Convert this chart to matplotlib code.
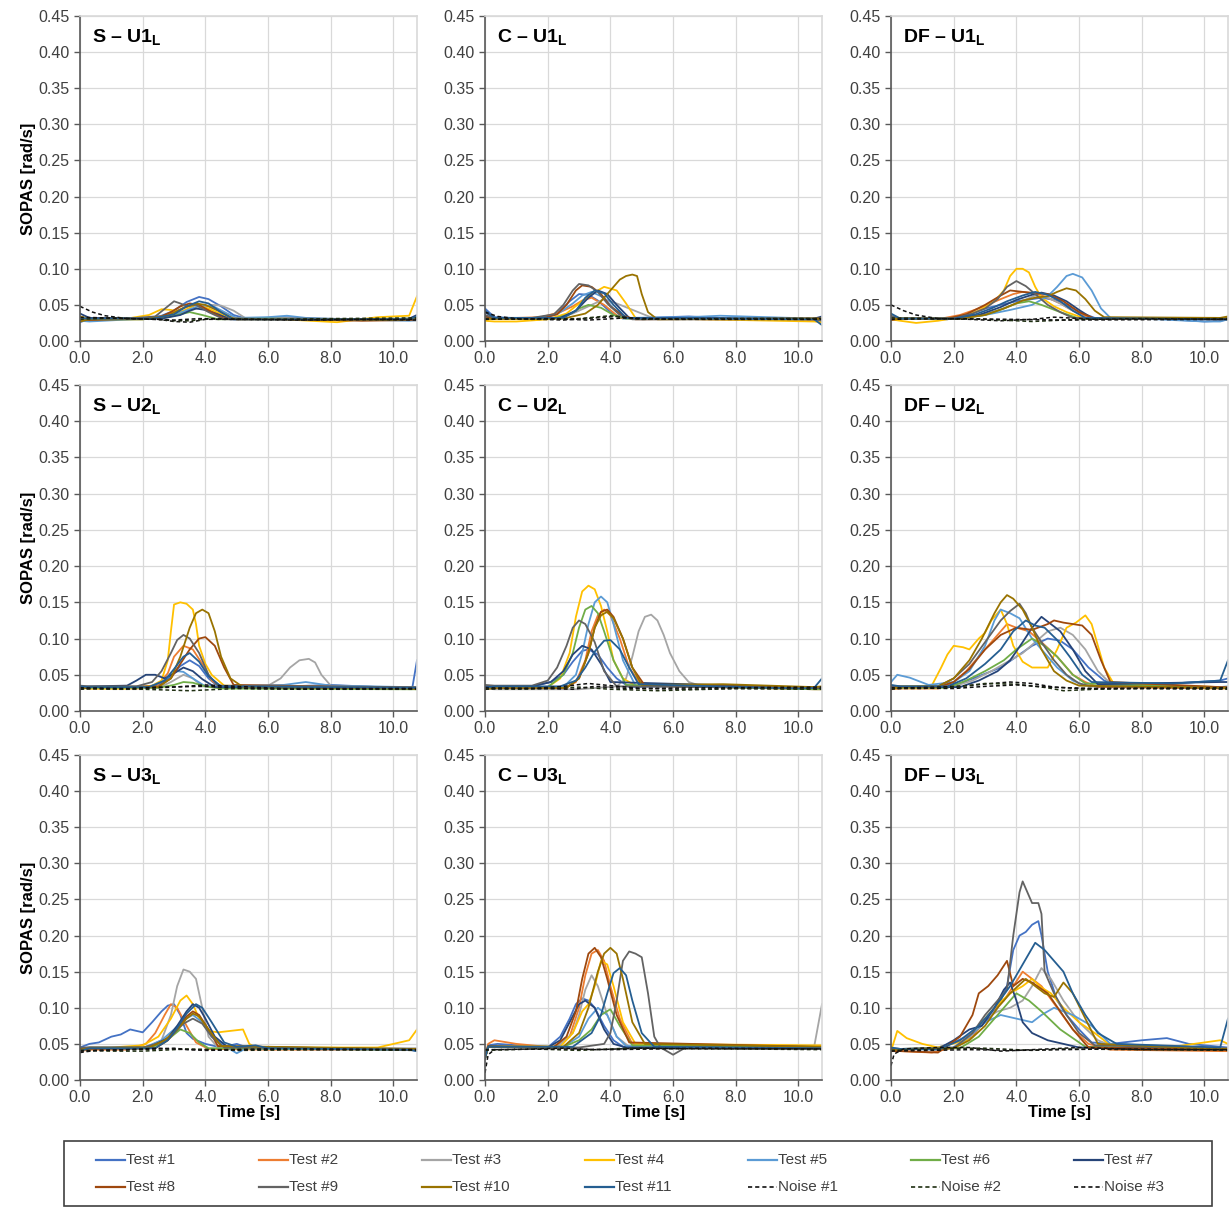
import matplotlib
matplotlib.use("Agg")
import matplotlib.pyplot as plt
from matplotlib import font_manager
from matplotlib.lines import Line2D
from matplotlib.patches import Rectangle

names = set(f.name for f in font_manager.fontManager.ttflist)
FONT = "Liberation Sans Narrow" if "Liberation Sans Narrow" in names else "Liberation Sans"
plt.rcParams['font.family'] = [FONT, 'DejaVu Sans']
plt.rcParams['mathtext.fontset'] = 'custom'
plt.rcParams['mathtext.rm'] = FONT
plt.rcParams['mathtext.bf'] = FONT + ':bold'

series_names = ["Test #1", "Test #2", "Test #3", "Test #4", "Test #5", "Test #6", "Test #7",
                "Test #8", "Test #9", "Test #10", "Test #11", "Noise #1", "Noise #2", "Noise #3"]
colors = ["#4472C4", "#ED7D31", "#A5A5A5", "#FFC000", "#5B9BD5", "#70AD47", "#264478",
          "#9E480E", "#636363", "#997300", "#255E91", "#111111", "#1f2f12", "#111111"]

panel_titles = ["S – U1", "C – U1", "DF – U1",
                "S – U2", "C – U2", "DF – U2",
                "S – U3", "C – U3", "DF – U3"]

# each curve: (time [s], SOPAS [rad/s]); order Test #1..#11, Noise #1..#3
s_u1 = [
    ([0, 0.2, 1.0, 2.0, 2.6, 3.0, 3.4, 3.8, 4.1, 4.5, 4.9, 5.3, 6.5, 8.0, 9.5, 10.5, 10.75], [0.026, 0.029, 0.030, 0.031, 0.035, 0.042, 0.054, 0.061, 0.058, 0.048, 0.036, 0.031, 0.033, 0.030, 0.029, 0.030, 0.034]),
    ([0, 0.3, 1.2, 2.2, 2.7, 3.1, 3.6, 4.0, 4.5, 5.0, 7.0, 9.0, 10.5, 10.75], [0.033, 0.030, 0.031, 0.031, 0.035, 0.042, 0.050, 0.046, 0.036, 0.030, 0.031, 0.029, 0.030, 0.032]),
    ([0, 0.3, 2.5, 3.2, 3.8, 4.2, 4.5, 4.9, 5.3, 6.5, 8.0, 10.5, 10.75], [0.030, 0.032, 0.032, 0.038, 0.046, 0.050, 0.049, 0.042, 0.031, 0.032, 0.030, 0.029, 0.028]),
    ([0, 0.3, 1.5, 2.2, 2.6, 2.9, 3.2, 3.7, 4.1, 4.5, 5.0, 6.5, 8.2, 9.5, 10.5, 10.75], [0.034, 0.031, 0.031, 0.036, 0.044, 0.043, 0.040, 0.050, 0.045, 0.037, 0.030, 0.030, 0.026, 0.033, 0.035, 0.062]),
    ([0, 0.3, 2.5, 3.0, 3.5, 3.9, 4.3, 4.7, 5.0, 6.0, 6.6, 7.2, 8.5, 10.5, 10.75], [0.028, 0.027, 0.032, 0.036, 0.044, 0.050, 0.047, 0.038, 0.032, 0.033, 0.035, 0.032, 0.030, 0.028, 0.029]),
    ([0, 0.3, 2.0, 2.8, 3.2, 3.5, 3.9, 4.4, 6.0, 8.0, 10.5, 10.75], [0.031, 0.030, 0.030, 0.033, 0.037, 0.040, 0.036, 0.030, 0.031, 0.030, 0.031, 0.031]),
    ([0, 0.3, 2.6, 3.2, 3.5, 3.7, 4.0, 4.4, 4.8, 7.0, 9.0, 10.5, 10.75], [0.038, 0.032, 0.031, 0.036, 0.042, 0.045, 0.043, 0.037, 0.030, 0.030, 0.029, 0.031, 0.036]),
    ([0, 0.3, 2.5, 2.9, 3.2, 3.5, 3.8, 4.2, 4.6, 7.0, 9.0, 10.5, 10.75], [0.030, 0.029, 0.032, 0.040, 0.048, 0.052, 0.050, 0.040, 0.031, 0.030, 0.028, 0.029, 0.030]),
    ([0, 0.3, 1.5, 2.4, 2.8, 3.0, 3.2, 3.4, 3.7, 4.1, 4.6, 7.0, 10.5, 10.75], [0.029, 0.031, 0.031, 0.034, 0.048, 0.055, 0.052, 0.048, 0.050, 0.040, 0.030, 0.031, 0.030, 0.031]),
    ([0, 0.3, 2.0, 2.8, 3.3, 3.7, 4.0, 4.4, 4.9, 7.0, 10.0, 10.5, 10.75], [0.027, 0.030, 0.030, 0.035, 0.046, 0.052, 0.050, 0.042, 0.031, 0.030, 0.029, 0.030, 0.033]),
    ([0, 0.3, 2.3, 3.0, 3.4, 3.8, 4.1, 4.5, 4.9, 7.0, 10.5, 10.75], [0.032, 0.031, 0.031, 0.037, 0.048, 0.055, 0.052, 0.040, 0.030, 0.030, 0.030, 0.034]),
    ([0, 0.4, 0.8, 1.5, 2.5, 3.0, 3.5, 4.0, 5.0, 7.0, 9.0, 10.75], [0.048, 0.040, 0.035, 0.031, 0.030, 0.027, 0.026, 0.030, 0.030, 0.029, 0.030, 0.029]),
    ([0, 1.0, 2.5, 3.0, 3.5, 4.2, 6.0, 8.0, 10.75], [0.030, 0.032, 0.030, 0.028, 0.028, 0.031, 0.030, 0.031, 0.032]),
    ([0, 1.5, 3.0, 3.8, 5.0, 7.5, 10.75], [0.033, 0.031, 0.029, 0.031, 0.030, 0.029, 0.030]),
]

c_u1 = [
    ([0, 0.3, 1.8, 2.3, 2.7, 3.0, 3.3, 3.6, 4.0, 4.4, 6.5, 8.0, 10.5, 10.75], [0.045, 0.033, 0.030, 0.038, 0.055, 0.065, 0.064, 0.056, 0.040, 0.031, 0.034, 0.031, 0.030, 0.030]),
    ([0, 0.3, 1.8, 2.4, 2.8, 3.1, 3.4, 3.8, 4.3, 7.0, 10.5, 10.75], [0.032, 0.031, 0.033, 0.040, 0.048, 0.056, 0.060, 0.050, 0.032, 0.030, 0.029, 0.029]),
    ([0, 0.3, 2.2, 2.8, 3.3, 3.8, 4.2, 4.6, 5.0, 5.4, 7.0, 10.5, 10.75], [0.030, 0.031, 0.031, 0.038, 0.048, 0.058, 0.052, 0.045, 0.038, 0.031, 0.031, 0.030, 0.030]),
    ([0, 0.3, 1.0, 2.0, 2.6, 3.0, 3.4, 3.8, 4.2, 4.5, 4.8, 7.0, 10.5, 10.75], [0.028, 0.027, 0.027, 0.030, 0.038, 0.052, 0.065, 0.075, 0.070, 0.052, 0.032, 0.030, 0.027, 0.026]),
    ([0, 0.3, 1.5, 2.3, 2.8, 3.1, 3.4, 3.8, 4.1, 4.5, 6.5, 7.5, 10.5, 10.75], [0.033, 0.031, 0.031, 0.037, 0.052, 0.063, 0.068, 0.060, 0.045, 0.032, 0.033, 0.035, 0.031, 0.030]),
    ([0, 0.3, 2.2, 2.7, 3.0, 3.3, 3.7, 4.1, 4.5, 10.5, 10.75], [0.031, 0.031, 0.031, 0.037, 0.045, 0.050, 0.046, 0.036, 0.031, 0.031, 0.031]),
    ([0, 0.3, 2.4, 2.9, 3.3, 3.6, 3.9, 4.2, 4.6, 10.5, 10.75], [0.040, 0.032, 0.032, 0.042, 0.060, 0.070, 0.065, 0.050, 0.032, 0.031, 0.034]),
    ([0, 0.3, 1.8, 2.3, 2.6, 2.9, 3.1, 3.4, 3.7, 4.0, 4.4, 4.8, 10.5, 10.75], [0.034, 0.031, 0.031, 0.037, 0.050, 0.070, 0.077, 0.075, 0.065, 0.048, 0.035, 0.030, 0.031, 0.031]),
    ([0, 0.3, 1.5, 2.2, 2.5, 2.8, 3.0, 3.3, 3.6, 3.9, 4.3, 4.7, 10.5, 10.75], [0.036, 0.032, 0.032, 0.037, 0.050, 0.070, 0.079, 0.077, 0.068, 0.052, 0.036, 0.030, 0.030, 0.028]),
    ([0, 0.3, 2.5, 3.2, 3.6, 3.8, 4.0, 4.3, 4.5, 4.7, 4.85, 5.0, 5.2, 5.5, 10.5, 10.75], [0.030, 0.031, 0.031, 0.038, 0.050, 0.060, 0.070, 0.085, 0.090, 0.092, 0.090, 0.065, 0.040, 0.030, 0.031, 0.031]),
    ([0, 0.3, 2.5, 2.9, 3.2, 3.5, 3.8, 4.1, 4.5, 7.0, 10.5, 10.75], [0.042, 0.032, 0.032, 0.042, 0.060, 0.070, 0.066, 0.050, 0.032, 0.031, 0.030, 0.022]),
    ([0, 0.4, 1.0, 2.5, 3.5, 4.2, 5.0, 7.0, 10.75], [0.040, 0.034, 0.031, 0.029, 0.032, 0.034, 0.030, 0.031, 0.031]),
    ([0, 1.5, 3.0, 4.0, 5.0, 8.0, 10.75], [0.031, 0.030, 0.031, 0.035, 0.030, 0.031, 0.031]),
    ([0, 2.0, 3.3, 4.5, 6.0, 10.75], [0.030, 0.031, 0.029, 0.032, 0.030, 0.030]),
]

df_u1 = [
    ([0, 0.3, 1.8, 2.5, 3.0, 3.5, 4.0, 4.5, 4.8, 5.2, 5.6, 6.0, 6.5, 8.5, 10.0, 10.5, 10.75], [0.030, 0.031, 0.030, 0.037, 0.045, 0.050, 0.055, 0.058, 0.060, 0.057, 0.050, 0.040, 0.032, 0.031, 0.027, 0.028, 0.030]),
    ([0, 0.3, 1.6, 2.2, 2.8, 3.5, 3.9, 4.2, 4.6, 5.0, 5.4, 5.8, 6.4, 10.5, 10.75], [0.033, 0.031, 0.031, 0.036, 0.045, 0.058, 0.065, 0.068, 0.066, 0.060, 0.052, 0.042, 0.031, 0.030, 0.030]),
    ([0, 0.3, 2.0, 2.8, 3.4, 4.0, 4.6, 5.0, 5.4, 5.8, 6.2, 10.5, 10.75], [0.030, 0.031, 0.031, 0.036, 0.042, 0.052, 0.063, 0.060, 0.052, 0.042, 0.032, 0.031, 0.031]),
    ([0, 0.3, 0.8, 1.5, 2.2, 2.8, 3.3, 3.6, 3.8, 4.0, 4.2, 4.4, 4.6, 4.8, 5.2, 5.6, 6.2, 10.5, 10.75], [0.030, 0.028, 0.025, 0.028, 0.033, 0.042, 0.055, 0.070, 0.090, 0.100, 0.100, 0.095, 0.075, 0.060, 0.048, 0.040, 0.031, 0.031, 0.032]),
    ([0, 0.3, 2.0, 3.0, 3.8, 4.5, 5.0, 5.3, 5.6, 5.8, 6.1, 6.4, 6.7, 7.0, 8.5, 10.0, 10.5, 10.75], [0.030, 0.031, 0.031, 0.036, 0.043, 0.050, 0.062, 0.075, 0.090, 0.093, 0.088, 0.070, 0.045, 0.032, 0.030, 0.027, 0.027, 0.030]),
    ([0, 0.3, 2.2, 3.0, 3.6, 4.0, 4.4, 4.8, 5.4, 6.0, 10.5, 10.75], [0.031, 0.031, 0.031, 0.036, 0.045, 0.052, 0.055, 0.050, 0.040, 0.031, 0.031, 0.031]),
    ([0, 0.3, 2.0, 2.8, 3.5, 4.0, 4.5, 4.8, 5.2, 5.6, 6.0, 6.4, 10.5, 10.75], [0.032, 0.031, 0.031, 0.036, 0.047, 0.057, 0.064, 0.067, 0.063, 0.055, 0.043, 0.032, 0.031, 0.031]),
    ([0, 0.3, 1.8, 2.4, 3.0, 3.5, 3.8, 4.2, 4.6, 5.0, 5.5, 6.0, 6.5, 10.5, 10.75], [0.029, 0.031, 0.031, 0.037, 0.050, 0.063, 0.070, 0.068, 0.066, 0.065, 0.055, 0.040, 0.031, 0.031, 0.031]),
    ([0, 0.3, 2.0, 2.6, 3.0, 3.4, 3.7, 4.0, 4.3, 4.6, 5.0, 5.4, 5.8, 10.5, 10.75], [0.035, 0.031, 0.031, 0.038, 0.045, 0.058, 0.075, 0.083, 0.076, 0.065, 0.050, 0.040, 0.032, 0.030, 0.030]),
    ([0, 0.3, 2.2, 3.0, 3.6, 4.2, 4.6, 5.0, 5.3, 5.6, 5.9, 6.2, 6.5, 6.8, 10.5, 10.75], [0.030, 0.031, 0.031, 0.036, 0.045, 0.056, 0.060, 0.062, 0.068, 0.073, 0.070, 0.058, 0.042, 0.033, 0.032, 0.034]),
    ([0, 0.3, 2.0, 2.7, 3.2, 3.7, 4.2, 4.6, 5.0, 5.4, 5.8, 6.2, 10.5, 10.75], [0.038, 0.031, 0.031, 0.037, 0.045, 0.055, 0.063, 0.068, 0.064, 0.055, 0.042, 0.032, 0.030, 0.030]),
    ([0, 0.4, 0.8, 1.5, 2.5, 3.5, 4.5, 5.2, 6.5, 8.0, 10.75], [0.050, 0.042, 0.036, 0.031, 0.030, 0.028, 0.030, 0.033, 0.030, 0.031, 0.030]),
    ([0, 1.5, 3.0, 4.0, 4.5, 6.0, 10.75], [0.032, 0.031, 0.030, 0.028, 0.027, 0.030, 0.031]),
    ([0, 2.0, 3.8, 5.5, 10.75], [0.030, 0.031, 0.030, 0.029, 0.030]),
]

s_u2 = [
    ([0, 0.3, 1.0, 2.2, 2.6, 2.9, 3.2, 3.5, 3.8, 4.1, 4.4, 6.0, 8.0, 9.5, 10.6, 10.75], [0.031, 0.033, 0.033, 0.034, 0.038, 0.048, 0.062, 0.070, 0.062, 0.045, 0.034, 0.033, 0.036, 0.033, 0.032, 0.070]),
    ([0, 0.3, 2.0, 2.5, 2.8, 3.0, 3.3, 3.6, 3.9, 4.2, 4.5, 10.5, 10.75], [0.033, 0.031, 0.031, 0.037, 0.052, 0.075, 0.090, 0.085, 0.065, 0.042, 0.033, 0.031, 0.031]),
    ([0, 0.3, 2.5, 2.9, 3.3, 3.6, 3.9, 6.0, 6.4, 6.7, 7.0, 7.3, 7.5, 7.7, 8.0, 10.5, 10.75], [0.031, 0.032, 0.032, 0.040, 0.050, 0.045, 0.034, 0.035, 0.045, 0.060, 0.070, 0.072, 0.067, 0.050, 0.035, 0.032, 0.032]),
    ([0, 0.3, 1.5, 2.3, 2.6, 2.8, 2.9, 3.0, 3.2, 3.4, 3.6, 3.7, 3.8, 4.0, 4.2, 4.6, 10.5, 10.75], [0.032, 0.031, 0.031, 0.035, 0.042, 0.070, 0.110, 0.147, 0.150, 0.148, 0.140, 0.120, 0.090, 0.065, 0.050, 0.035, 0.032, 0.032]),
    ([0, 0.3, 2.2, 2.6, 2.9, 3.1, 3.3, 3.6, 4.0, 6.5, 7.2, 8.0, 10.5, 10.75], [0.030, 0.033, 0.033, 0.040, 0.050, 0.055, 0.054, 0.045, 0.034, 0.036, 0.040, 0.035, 0.033, 0.033]),
    ([0, 0.3, 2.5, 3.0, 3.3, 3.6, 4.0, 4.5, 10.5, 10.75], [0.031, 0.032, 0.032, 0.036, 0.040, 0.039, 0.034, 0.031, 0.030, 0.030]),
    ([0, 0.3, 1.5, 1.8, 2.1, 2.4, 2.7, 3.0, 3.3, 3.6, 3.9, 4.3, 10.5, 10.75], [0.033, 0.034, 0.035, 0.042, 0.050, 0.050, 0.045, 0.052, 0.060, 0.055, 0.044, 0.033, 0.031, 0.031]),
    ([0, 0.3, 2.5, 2.9, 3.2, 3.5, 3.8, 4.0, 4.3, 4.6, 4.9, 10.5, 10.75], [0.032, 0.033, 0.034, 0.045, 0.065, 0.085, 0.100, 0.102, 0.090, 0.060, 0.036, 0.032, 0.032]),
    ([0, 0.3, 1.8, 2.3, 2.6, 2.9, 3.1, 3.3, 3.5, 3.8, 4.1, 4.4, 10.5, 10.75], [0.035, 0.034, 0.034, 0.040, 0.055, 0.080, 0.098, 0.105, 0.100, 0.080, 0.050, 0.035, 0.033, 0.033]),
    ([0, 0.3, 2.5, 2.9, 3.2, 3.5, 3.7, 3.9, 4.1, 4.3, 4.5, 4.8, 5.2, 10.5, 10.75], [0.030, 0.033, 0.033, 0.045, 0.075, 0.115, 0.135, 0.140, 0.135, 0.110, 0.075, 0.045, 0.033, 0.031, 0.030]),
    ([0, 0.3, 2.2, 2.7, 3.0, 3.3, 3.5, 3.8, 4.1, 4.5, 10.5, 10.75], [0.034, 0.033, 0.033, 0.042, 0.058, 0.075, 0.080, 0.068, 0.048, 0.034, 0.032, 0.032]),
    ([0, 0.5, 1.5, 2.5, 3.0, 4.0, 5.0, 6.5, 8.0, 10.75], [0.030, 0.031, 0.030, 0.032, 0.033, 0.036, 0.034, 0.031, 0.031, 0.031]),
    ([0, 1.0, 2.0, 3.5, 5.0, 8.0, 10.75], [0.031, 0.030, 0.030, 0.028, 0.031, 0.030, 0.030]),
    ([0, 1.5, 2.5, 4.0, 5.5, 7.0, 10.75], [0.032, 0.031, 0.033, 0.034, 0.031, 0.030, 0.031]),
]

c_u2 = [
    ([0, 0.3, 1.5, 2.1, 2.5, 2.8, 3.1, 3.3, 3.6, 3.9, 4.2, 4.6, 7.5, 8.0, 10.5, 10.75], [0.033, 0.034, 0.034, 0.040, 0.050, 0.068, 0.083, 0.085, 0.078, 0.060, 0.045, 0.033, 0.036, 0.033, 0.031, 0.031]),
    ([0, 0.3, 2.5, 2.9, 3.2, 3.4, 3.6, 3.8, 4.0, 4.3, 4.6, 5.0, 10.5, 10.75], [0.030, 0.031, 0.031, 0.040, 0.070, 0.110, 0.132, 0.140, 0.132, 0.100, 0.060, 0.035, 0.030, 0.030]),
    ([0, 0.3, 3.0, 4.2, 4.5, 4.7, 4.9, 5.1, 5.3, 5.5, 5.7, 5.9, 6.2, 6.5, 7.0, 10.5, 10.75], [0.031, 0.030, 0.030, 0.034, 0.045, 0.075, 0.110, 0.130, 0.133, 0.125, 0.105, 0.080, 0.055, 0.040, 0.033, 0.032, 0.032]),
    ([0, 0.3, 2.0, 2.4, 2.7, 2.9, 3.1, 3.3, 3.5, 3.7, 3.9, 4.1, 4.4, 4.8, 10.5, 10.75], [0.032, 0.033, 0.033, 0.045, 0.080, 0.130, 0.165, 0.173, 0.168, 0.145, 0.110, 0.070, 0.045, 0.035, 0.031, 0.031]),
    ([0, 0.3, 2.5, 2.9, 3.1, 3.3, 3.5, 3.7, 3.9, 4.1, 4.4, 4.8, 10.5, 10.75], [0.030, 0.033, 0.033, 0.050, 0.080, 0.120, 0.150, 0.158, 0.150, 0.120, 0.070, 0.035, 0.031, 0.031]),
    ([0, 0.3, 2.0, 2.5, 2.8, 3.0, 3.2, 3.4, 3.6, 3.8, 4.1, 4.5, 10.5, 10.75], [0.031, 0.033, 0.033, 0.050, 0.080, 0.115, 0.140, 0.145, 0.135, 0.110, 0.070, 0.036, 0.030, 0.030]),
    ([0, 0.3, 1.5, 2.1, 2.5, 2.8, 3.1, 3.4, 3.7, 4.0, 10.5, 10.75], [0.034, 0.034, 0.034, 0.040, 0.055, 0.078, 0.090, 0.085, 0.065, 0.040, 0.032, 0.032]),
    ([0, 0.3, 2.6, 3.0, 3.3, 3.5, 3.7, 3.9, 4.1, 4.4, 4.7, 5.1, 10.5, 10.75], [0.031, 0.032, 0.032, 0.045, 0.080, 0.115, 0.137, 0.140, 0.130, 0.100, 0.060, 0.035, 0.033, 0.033]),
    ([0, 0.3, 1.5, 2.0, 2.3, 2.6, 2.8, 3.0, 3.2, 3.5, 3.8, 4.2, 10.5, 10.75], [0.036, 0.035, 0.035, 0.042, 0.060, 0.090, 0.115, 0.125, 0.120, 0.095, 0.055, 0.034, 0.032, 0.032]),
    ([0, 0.3, 2.6, 3.0, 3.3, 3.5, 3.7, 3.9, 4.1, 4.4, 4.7, 5.0, 7.6, 10.5, 10.75], [0.030, 0.032, 0.032, 0.045, 0.080, 0.115, 0.132, 0.137, 0.128, 0.100, 0.060, 0.036, 0.037, 0.033, 0.034]),
    ([0, 0.3, 2.4, 2.9, 3.2, 3.5, 3.8, 4.0, 4.3, 4.6, 4.9, 10.0, 10.5, 10.75], [0.032, 0.034, 0.034, 0.042, 0.060, 0.082, 0.097, 0.098, 0.085, 0.060, 0.037, 0.031, 0.032, 0.045]),
    ([0, 0.5, 1.5, 2.5, 3.3, 4.0, 5.0, 6.5, 8.0, 10.75], [0.030, 0.031, 0.031, 0.034, 0.038, 0.035, 0.031, 0.030, 0.031, 0.031]),
    ([0, 1.0, 2.0, 3.0, 4.0, 5.5, 8.0, 10.75], [0.031, 0.030, 0.031, 0.033, 0.030, 0.028, 0.031, 0.030]),
    ([0, 2.0, 2.8, 3.5, 4.5, 7.0, 10.75], [0.032, 0.031, 0.030, 0.034, 0.031, 0.032, 0.033]),
]

df_u2 = [
    ([0, 0.3, 1.6, 2.2, 2.8, 3.5, 4.0, 4.5, 5.0, 5.4, 5.8, 6.3, 6.8, 7.2, 9.0, 10.5, 10.75], [0.032, 0.034, 0.033, 0.038, 0.048, 0.060, 0.075, 0.090, 0.100, 0.097, 0.085, 0.060, 0.042, 0.036, 0.038, 0.042, 0.045]),
    ([0, 0.3, 1.5, 2.0, 2.4, 2.8, 3.2, 3.7, 4.0, 4.4, 4.8, 5.3, 5.8, 6.2, 6.6, 10.5, 10.75], [0.030, 0.031, 0.031, 0.040, 0.055, 0.075, 0.095, 0.120, 0.115, 0.110, 0.095, 0.075, 0.050, 0.040, 0.033, 0.031, 0.031]),
    ([0, 0.3, 2.0, 2.6, 3.2, 3.8, 4.2, 4.6, 5.0, 5.4, 5.8, 6.2, 6.6, 7.0, 10.5, 10.75], [0.033, 0.034, 0.034, 0.042, 0.055, 0.070, 0.080, 0.095, 0.110, 0.115, 0.105, 0.085, 0.055, 0.038, 0.032, 0.032]),
    ([0, 0.3, 1.3, 1.6, 1.8, 2.0, 2.3, 2.5, 2.8, 3.0, 3.2, 3.5, 3.7, 3.9, 4.2, 4.5, 5.0, 5.3, 5.6, 5.9, 6.2, 6.4, 6.6, 6.8, 7.1, 10.5, 10.75], [0.033, 0.034, 0.035, 0.060, 0.078, 0.090, 0.088, 0.085, 0.100, 0.108, 0.125, 0.140, 0.120, 0.090, 0.068, 0.060, 0.060, 0.085, 0.115, 0.122, 0.132, 0.120, 0.090, 0.060, 0.038, 0.033, 0.033]),
    ([0, 0.2, 0.6, 1.2, 2.0, 2.5, 3.0, 3.3, 3.5, 3.8, 4.1, 4.5, 4.8, 5.3, 5.8, 6.2, 10.5, 10.75], [0.040, 0.050, 0.046, 0.036, 0.040, 0.055, 0.090, 0.125, 0.140, 0.135, 0.128, 0.100, 0.085, 0.060, 0.042, 0.035, 0.033, 0.034]),
    ([0, 0.3, 1.8, 2.4, 3.0, 3.6, 4.0, 4.5, 4.9, 5.3, 5.8, 6.2, 10.5, 10.75], [0.031, 0.032, 0.032, 0.042, 0.055, 0.070, 0.085, 0.100, 0.090, 0.075, 0.050, 0.038, 0.032, 0.032]),
    ([0, 0.3, 2.2, 2.8, 3.4, 3.8, 4.2, 4.5, 4.8, 5.1, 5.4, 5.8, 6.2, 6.6, 10.5, 10.75], [0.034, 0.033, 0.033, 0.042, 0.055, 0.070, 0.095, 0.115, 0.130, 0.120, 0.110, 0.085, 0.055, 0.037, 0.040, 0.040]),
    ([0, 0.3, 1.5, 2.0, 2.5, 3.0, 3.5, 4.0, 4.5, 5.0, 5.2, 5.5, 5.8, 6.1, 6.4, 6.7, 7.0, 10.5, 10.75], [0.032, 0.033, 0.033, 0.040, 0.058, 0.085, 0.105, 0.115, 0.112, 0.120, 0.125, 0.122, 0.120, 0.118, 0.105, 0.070, 0.040, 0.033, 0.033]),
    ([0, 0.3, 1.5, 2.0, 2.5, 3.0, 3.5, 3.8, 4.1, 4.3, 4.5, 4.8, 5.2, 5.6, 6.0, 6.4, 10.5, 10.75], [0.035, 0.034, 0.034, 0.045, 0.065, 0.095, 0.125, 0.138, 0.148, 0.135, 0.115, 0.095, 0.070, 0.050, 0.038, 0.034, 0.032, 0.032]),
    ([0, 0.3, 1.5, 2.0, 2.5, 2.9, 3.3, 3.5, 3.7, 3.9, 4.2, 4.5, 4.8, 5.2, 5.6, 6.0, 10.5, 10.75], [0.031, 0.033, 0.034, 0.045, 0.070, 0.100, 0.135, 0.150, 0.160, 0.155, 0.140, 0.115, 0.085, 0.055, 0.042, 0.035, 0.032, 0.032]),
    ([0, 0.3, 1.8, 2.4, 3.0, 3.5, 3.9, 4.3, 4.6, 4.9, 5.3, 5.7, 6.1, 6.4, 9.0, 10.5, 10.75], [0.036, 0.034, 0.034, 0.045, 0.065, 0.085, 0.110, 0.125, 0.118, 0.115, 0.098, 0.075, 0.050, 0.040, 0.038, 0.042, 0.070]),
    ([0, 0.5, 1.5, 2.5, 3.2, 3.8, 4.5, 5.2, 6.0, 8.0, 10.75], [0.030, 0.032, 0.033, 0.035, 0.038, 0.040, 0.038, 0.033, 0.031, 0.031, 0.031]),
    ([0, 1.0, 2.0, 3.0, 4.0, 5.0, 5.5, 6.5, 8.0, 10.75], [0.031, 0.031, 0.033, 0.038, 0.037, 0.032, 0.028, 0.030, 0.031, 0.030]),
    ([0, 2.0, 3.0, 4.0, 5.0, 6.5, 10.75], [0.032, 0.031, 0.034, 0.036, 0.033, 0.031, 0.032]),
]

s_u3 = [
    ([0, 0.3, 0.6, 1.0, 1.3, 1.6, 2.0, 2.3, 2.6, 2.8, 3.0, 3.2, 3.4, 3.6, 4.0, 4.5, 5.0, 5.4, 6.0, 10.5, 10.75], [0.045, 0.050, 0.052, 0.060, 0.063, 0.070, 0.066, 0.080, 0.095, 0.103, 0.105, 0.090, 0.065, 0.057, 0.050, 0.045, 0.050, 0.044, 0.043, 0.042, 0.040]),
    ([0, 0.3, 1.5, 2.1, 2.4, 2.7, 2.9, 3.1, 3.4, 3.7, 4.1, 6.0, 10.5, 10.75], [0.040, 0.042, 0.042, 0.050, 0.065, 0.090, 0.105, 0.100, 0.075, 0.052, 0.043, 0.042, 0.042, 0.042]),
    ([0, 0.3, 2.0, 2.6, 2.9, 3.1, 3.3, 3.5, 3.7, 3.9, 4.1, 4.4, 10.5, 10.75], [0.043, 0.043, 0.043, 0.055, 0.090, 0.130, 0.153, 0.150, 0.140, 0.100, 0.060, 0.045, 0.044, 0.044]),
    ([0, 0.3, 1.0, 2.0, 2.5, 2.9, 3.2, 3.4, 3.6, 3.8, 4.1, 4.4, 4.8, 5.2, 5.4, 5.6, 9.5, 10.5, 10.75], [0.040, 0.045, 0.045, 0.048, 0.060, 0.085, 0.110, 0.117, 0.105, 0.085, 0.068, 0.066, 0.068, 0.070, 0.050, 0.045, 0.045, 0.055, 0.070]),
    ([0, 0.3, 2.0, 2.6, 3.0, 3.3, 3.6, 3.9, 4.2, 4.7, 5.0, 5.3, 6.0, 10.5, 10.75], [0.042, 0.044, 0.044, 0.055, 0.070, 0.083, 0.090, 0.080, 0.060, 0.045, 0.037, 0.044, 0.043, 0.042, 0.043]),
    ([0, 0.3, 2.2, 2.7, 3.0, 3.2, 3.5, 3.8, 4.1, 10.5, 10.75], [0.043, 0.044, 0.044, 0.052, 0.063, 0.070, 0.065, 0.052, 0.044, 0.042, 0.042]),
    ([0, 0.3, 2.2, 2.8, 3.1, 3.4, 3.6, 3.8, 4.0, 4.3, 4.7, 10.5, 10.75], [0.044, 0.045, 0.045, 0.058, 0.075, 0.095, 0.105, 0.100, 0.085, 0.060, 0.046, 0.042, 0.042]),
    ([0, 0.3, 2.4, 2.8, 3.1, 3.4, 3.6, 3.8, 4.1, 4.4, 10.5, 10.75], [0.042, 0.043, 0.044, 0.055, 0.070, 0.088, 0.095, 0.090, 0.070, 0.047, 0.042, 0.042]),
    ([0, 0.3, 2.0, 2.6, 3.0, 3.3, 3.6, 3.9, 4.2, 4.6, 10.5, 10.75], [0.045, 0.045, 0.045, 0.052, 0.065, 0.078, 0.085, 0.078, 0.060, 0.045, 0.043, 0.043]),
    ([0, 0.3, 2.2, 2.7, 3.1, 3.4, 3.6, 3.8, 4.1, 4.5, 10.5, 10.75], [0.042, 0.044, 0.045, 0.055, 0.070, 0.085, 0.092, 0.088, 0.070, 0.047, 0.043, 0.043]),
    ([0, 0.3, 2.4, 2.8, 3.1, 3.4, 3.7, 3.9, 4.2, 4.6, 5.0, 5.6, 6.0, 10.5, 10.75], [0.040, 0.044, 0.044, 0.055, 0.072, 0.092, 0.105, 0.100, 0.080, 0.052, 0.046, 0.048, 0.044, 0.042, 0.040]),
    ([0, 0.5, 1.5, 2.5, 3.0, 3.5, 4.5, 6.0, 8.0, 10.75], [0.038, 0.041, 0.042, 0.043, 0.044, 0.042, 0.042, 0.043, 0.042, 0.042]),
    ([0, 1.0, 2.0, 3.5, 5.0, 8.0, 10.75], [0.041, 0.040, 0.040, 0.043, 0.041, 0.042, 0.041]),
    ([0, 1.5, 2.5, 4.0, 7.0, 10.75], [0.040, 0.042, 0.044, 0.041, 0.043, 0.042]),
]

c_u3 = [
    ([0, 0.1, 0.4, 2.0, 2.4, 2.7, 2.9, 3.1, 3.3, 3.5, 3.8, 4.1, 4.4, 10.5, 10.75], [0.030, 0.048, 0.050, 0.045, 0.060, 0.085, 0.105, 0.113, 0.110, 0.100, 0.075, 0.055, 0.046, 0.045, 0.045]),
    ([0, 0.1, 0.3, 1.0, 2.2, 2.7, 3.0, 3.2, 3.4, 3.6, 3.8, 4.0, 4.3, 4.7, 10.5, 10.75], [0.030, 0.050, 0.055, 0.050, 0.045, 0.060, 0.100, 0.145, 0.175, 0.180, 0.165, 0.130, 0.085, 0.050, 0.047, 0.047]),
    ([0, 0.1, 2.3, 2.8, 3.0, 3.2, 3.4, 3.6, 3.9, 4.2, 4.6, 10.0, 10.5, 10.75], [0.030, 0.046, 0.046, 0.065, 0.090, 0.125, 0.145, 0.130, 0.090, 0.060, 0.046, 0.044, 0.046, 0.105]),
    ([0, 0.1, 2.4, 2.8, 3.1, 3.3, 3.5, 3.7, 3.9, 4.1, 4.4, 4.8, 10.5, 10.75], [0.030, 0.047, 0.046, 0.065, 0.095, 0.105, 0.130, 0.165, 0.160, 0.130, 0.080, 0.050, 0.048, 0.048]),
    ([0, 0.1, 2.5, 3.0, 3.3, 3.6, 3.9, 4.2, 4.5, 10.5, 10.75], [0.030, 0.046, 0.046, 0.060, 0.085, 0.100, 0.090, 0.060, 0.047, 0.045, 0.044]),
    ([0, 0.1, 2.5, 3.0, 3.4, 3.7, 4.0, 4.3, 4.7, 10.5, 10.75], [0.030, 0.046, 0.046, 0.055, 0.070, 0.090, 0.098, 0.075, 0.048, 0.046, 0.045]),
    ([0, 0.1, 2.0, 2.4, 2.7, 3.0, 3.2, 3.5, 3.8, 4.1, 4.5, 10.5, 10.75], [0.030, 0.047, 0.045, 0.055, 0.080, 0.105, 0.110, 0.100, 0.070, 0.050, 0.045, 0.044, 0.044]),
    ([0, 0.1, 2.2, 2.6, 2.9, 3.1, 3.3, 3.5, 3.7, 3.9, 4.2, 4.6, 10.5, 10.75], [0.030, 0.046, 0.046, 0.060, 0.095, 0.140, 0.175, 0.183, 0.170, 0.140, 0.090, 0.052, 0.046, 0.046]),
    ([0, 0.1, 3.0, 3.8, 4.0, 4.2, 4.4, 4.6, 4.8, 5.0, 5.2, 5.4, 5.6, 6.0, 6.4, 10.5, 10.75], [0.030, 0.046, 0.045, 0.050, 0.065, 0.110, 0.165, 0.178, 0.175, 0.170, 0.120, 0.060, 0.045, 0.035, 0.045, 0.044, 0.044]),
    ([0, 0.1, 2.5, 3.0, 3.3, 3.6, 3.8, 4.0, 4.2, 4.4, 4.7, 5.1, 10.5, 10.75], [0.030, 0.046, 0.046, 0.065, 0.100, 0.150, 0.175, 0.183, 0.175, 0.140, 0.080, 0.050, 0.046, 0.046]),
    ([0, 0.1, 2.8, 3.4, 3.7, 3.9, 4.1, 4.3, 4.5, 4.7, 5.0, 5.4, 10.5, 10.75], [0.030, 0.046, 0.046, 0.065, 0.090, 0.120, 0.148, 0.155, 0.145, 0.110, 0.065, 0.046, 0.044, 0.044]),
    ([0, 0.1, 0.3, 1.5, 2.5, 3.5, 5.0, 7.0, 10.75], [0.010, 0.035, 0.042, 0.043, 0.044, 0.042, 0.044, 0.043, 0.043]),
    ([0, 1.5, 3.0, 4.5, 8.0, 10.75], [0.041, 0.043, 0.041, 0.044, 0.043, 0.042]),
    ([0, 2.5, 4.0, 7.0, 10.75], [0.042, 0.043, 0.042, 0.044, 0.043]),
]

df_u3 = [
    ([0, 0.3, 1.5, 2.0, 2.5, 3.0, 3.4, 3.7, 3.9, 4.1, 4.3, 4.5, 4.7, 4.8, 5.0, 5.3, 5.6, 6.0, 6.4, 7.0, 8.0, 8.8, 9.5, 10.5, 10.75], [0.040, 0.042, 0.045, 0.052, 0.062, 0.080, 0.100, 0.130, 0.180, 0.200, 0.205, 0.215, 0.220, 0.200, 0.150, 0.110, 0.090, 0.070, 0.052, 0.050, 0.055, 0.058, 0.050, 0.046, 0.045]),
    ([0, 0.3, 1.3, 2.0, 2.6, 3.2, 3.6, 3.9, 4.2, 4.5, 4.8, 5.3, 5.8, 6.3, 7.0, 10.5, 10.75], [0.042, 0.040, 0.038, 0.045, 0.060, 0.095, 0.110, 0.130, 0.150, 0.140, 0.130, 0.100, 0.070, 0.050, 0.042, 0.040, 0.040]),
    ([0, 0.3, 2.0, 2.6, 3.0, 3.4, 3.8, 4.2, 4.5, 4.8, 5.1, 5.5, 6.0, 6.6, 7.2, 10.5, 10.75], [0.042, 0.043, 0.045, 0.065, 0.085, 0.095, 0.100, 0.110, 0.130, 0.155, 0.140, 0.110, 0.080, 0.055, 0.045, 0.043, 0.043]),
    ([0, 0.2, 0.5, 1.0, 1.5, 2.4, 2.9, 3.3, 3.8, 4.2, 4.5, 4.8, 5.1, 5.5, 6.0, 6.5, 7.0, 9.0, 10.5, 10.75], [0.040, 0.068, 0.058, 0.050, 0.045, 0.055, 0.080, 0.100, 0.120, 0.130, 0.140, 0.128, 0.120, 0.100, 0.080, 0.065, 0.048, 0.046, 0.055, 0.050]),
    ([0, 0.3, 2.0, 2.5, 3.0, 3.5, 4.0, 4.5, 4.8, 5.2, 5.5, 5.8, 6.4, 7.0, 10.5, 10.75], [0.042, 0.043, 0.045, 0.060, 0.080, 0.090, 0.085, 0.080, 0.090, 0.100, 0.095, 0.090, 0.075, 0.050, 0.044, 0.044]),
    ([0, 0.3, 2.2, 2.8, 3.3, 3.7, 4.0, 4.4, 4.8, 5.4, 6.2, 10.5, 10.75], [0.041, 0.043, 0.044, 0.060, 0.085, 0.105, 0.120, 0.110, 0.095, 0.070, 0.046, 0.043, 0.043]),
    ([0, 0.3, 1.5, 2.0, 2.5, 2.9, 3.3, 3.6, 3.8, 4.0, 4.2, 4.5, 5.0, 5.5, 6.0, 10.5, 10.75], [0.044, 0.043, 0.043, 0.055, 0.070, 0.075, 0.100, 0.125, 0.135, 0.110, 0.080, 0.065, 0.055, 0.050, 0.045, 0.043, 0.043]),
    ([0, 0.3, 1.5, 2.2, 2.6, 2.8, 3.1, 3.4, 3.7, 3.9, 4.2, 4.5, 5.0, 5.4, 5.8, 6.3, 10.5, 10.75], [0.040, 0.040, 0.038, 0.060, 0.090, 0.120, 0.130, 0.145, 0.165, 0.130, 0.140, 0.135, 0.120, 0.095, 0.070, 0.045, 0.042, 0.042]),
    ([0, 0.3, 2.0, 2.6, 3.0, 3.4, 3.7, 3.9, 4.1, 4.2, 4.3, 4.5, 4.7, 4.8, 4.9, 5.2, 5.6, 6.0, 6.5, 10.5, 10.75], [0.043, 0.043, 0.044, 0.065, 0.090, 0.110, 0.125, 0.200, 0.260, 0.275, 0.265, 0.245, 0.245, 0.230, 0.150, 0.120, 0.090, 0.065, 0.048, 0.044, 0.044]),
    ([0, 0.3, 2.0, 2.5, 3.0, 3.4, 3.8, 4.3, 4.6, 4.9, 5.2, 5.5, 5.8, 6.2, 6.6, 10.5, 10.75], [0.041, 0.043, 0.044, 0.055, 0.075, 0.100, 0.120, 0.140, 0.130, 0.120, 0.115, 0.135, 0.120, 0.085, 0.050, 0.043, 0.043]),
    ([0, 0.3, 1.5, 2.2, 2.8, 3.3, 3.8, 4.2, 4.6, 4.9, 5.2, 5.5, 5.8, 6.2, 6.6, 7.2, 10.5, 10.75], [0.045, 0.043, 0.042, 0.055, 0.075, 0.100, 0.130, 0.160, 0.190, 0.180, 0.165, 0.150, 0.120, 0.090, 0.065, 0.050, 0.045, 0.085]),
    ([0, 0.1, 0.4, 1.5, 2.5, 3.5, 4.5, 6.0, 8.0, 10.75], [0.020, 0.036, 0.043, 0.045, 0.045, 0.040, 0.042, 0.045, 0.042, 0.042]),
    ([0, 1.0, 2.0, 3.0, 4.5, 5.5, 8.0, 10.75], [0.041, 0.042, 0.044, 0.044, 0.041, 0.043, 0.042, 0.041]),
    ([0, 2.5, 4.0, 7.0, 10.75], [0.040, 0.042, 0.041, 0.043, 0.042]),
]

panels = [s_u1, c_u1, df_u1, s_u2, c_u2, df_u2, s_u3, c_u3, df_u3]

W, H = 1231, 1211
fig = plt.figure(figsize=(W / 100, H / 100), dpi=100)

col_left = [80, 485, 891]
col_width = 337
row_box = [(16, 341), (385, 711), (755, 1080)]

grid_c = "#d9d9d9"
axis_c = "#595959"
text_c = "#404040"
DASH = (2.5, 1.8)

for i, curves in enumerate(panels):
    r, c = divmod(i, 3)
    top, bot = row_box[r]
    ax = fig.add_axes([col_left[c] / W, 1 - bot / H, col_width / W, (bot - top) / H])
    for k, (t, v) in enumerate(curves):
        if k < 11:
            ax.plot(t, v, color=colors[k], lw=1.3)
        else:
            ax.plot(t, v, color=colors[k], lw=1.1, dashes=DASH)
    ax.set_xlim(0, 10.75)
    ax.set_ylim(0, 0.45)
    ax.set_xticks([0, 2, 4, 6, 8, 10])
    ax.set_yticks([0.05 * j for j in range(10)])
    ax.xaxis.set_major_formatter(plt.FormatStrFormatter("%.1f"))
    ax.yaxis.set_major_formatter(plt.FormatStrFormatter("%.2f"))
    ax.grid(True, color=grid_c, lw=0.9)
    ax.set_axisbelow(True)
    for s in ["top", "right"]:
        ax.spines[s].set_color(grid_c)
        ax.spines[s].set_linewidth(1.2)
    for s in ["left", "bottom"]:
        ax.spines[s].set_color(axis_c)
        ax.spines[s].set_linewidth(1.2)
    ax.tick_params(axis="both", colors=axis_c, labelcolor=text_c, labelsize=11.5, length=4, width=1)
    ax.text(0.035, 0.965, panel_titles[i] + r"$_\mathbf{L}$", transform=ax.transAxes,
            ha="left", va="top", fontsize=14, fontweight="bold", color="black")
    if c == 0:
        ax.set_ylabel("SOPAS [rad/s]", fontsize=12, fontweight="bold", color="black", labelpad=2)
    if r == 2:
        ax.set_xlabel("Time [s]", fontsize=12, fontweight="bold", color="black", labelpad=0)

# legend box drawn by hand so the columns sit on an even grid like the original
fig.add_artist(Rectangle((64 / W, 1 - 1206 / H), (1212 - 64) / W, (1206 - 1141) / H,
                         transform=fig.transFigure, fill=False, edgecolor="#404040", lw=1.2))
for k in range(14):
    row, col = divmod(k, 7)
    y = 1 - (1160 + 27 * row) / H
    x0 = (96 + 163 * col) / W
    x1 = (125 + 163 * col) / W
    if k < 11:
        ln = Line2D([x0, x1], [y, y], transform=fig.transFigure, color=colors[k], lw=1.6)
    else:
        ln = Line2D([x0, x1], [y, y], transform=fig.transFigure, color=colors[k], lw=1.2, dashes=DASH)
    fig.add_artist(ln)
    fig.text(x1 + 1 / W, y, series_names[k], ha="left", va="center", fontsize=11, color=text_c)

fig.savefig("out.png", dpi=100)
